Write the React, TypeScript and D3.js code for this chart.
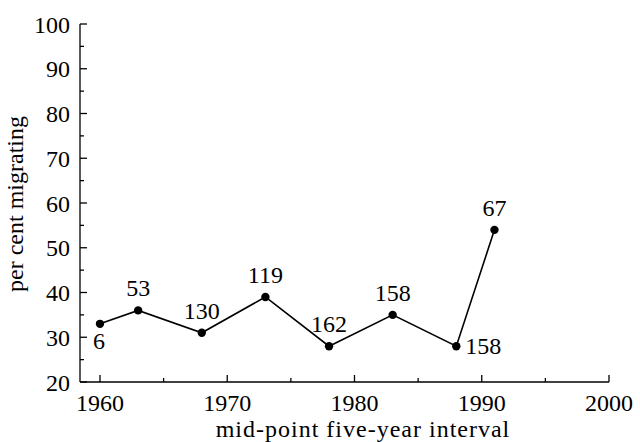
import React from "react";
import * as d3 from "d3";

// Mid-point of each five-year interval and the share of birds migrating
const years = [1960, 1963, 1968, 1973, 1978, 1983, 1988, 1991];
const percentMigrating = [33, 36, 31, 39, 28, 35, 28, 54];
// Sample size written beside each point
const sampleSizes = [6, 53, 130, 119, 162, 158, 158, 67];
const labelSide = ["below", "above", "above", "above", "above", "above", "right", "above"];

const xMajorTicks = [1960, 1970, 1980, 1990, 2000];
const xMinorTicks = [1965, 1975, 1985, 1995];
const yMajorTicks = [20, 30, 40, 50, 60, 70, 80, 90, 100];
const yMinorTicks = [25, 35, 45, 55, 65, 75, 85, 95];

const xTitle = "mid-point five-year interval";
const yTitle = "per cent migrating";

const W = 640;
const H = 442;
const left = 80;
const right = 609;
const top = 24;
const bottom = 382;
const FONT = "Liberation Serif";

export default function App() {
  const x = d3.scaleLinear().domain([1958.43, 2000]).range([left, right]);
  const y = d3.scaleLinear().domain([20, 100]).range([bottom, top]);

  const line = d3
    .line<number>()
    .x((_, i) => x(years[i]))
    .y((v) => y(v));

  const labelPos = (i: number) => {
    const px = x(years[i]);
    const py = y(percentMigrating[i]);
    switch (labelSide[i]) {
      case "below":
        return { x: px - 1, y: py + 25, anchor: "middle" };
      case "right":
        return { x: px + 9, y: py + 8, anchor: "start" };
      default:
        return { x: px, y: py - 14, anchor: "middle" };
    }
  };

  const ts = { fontFamily: FONT, fontSize: 24 };

  return (
    <svg
      width={W}
      height={H}
      viewBox={`0 0 ${W} ${H}`}
      style={{ position: "absolute", left: 0, top: 0, background: "#fff" }}
    >
      <rect width={W} height={H} fill="#fff" />

      {/* axes */}
      <g stroke="#000" strokeWidth={1.3} fill="none">
        <line x1={left} y1={top} x2={left} y2={bottom} />
        <line x1={left} y1={bottom} x2={right} y2={bottom} />
        {yMajorTicks.map((t) => (
          <line key={"ym" + t} x1={left} x2={left + 7} y1={y(t)} y2={y(t)} />
        ))}
        {yMinorTicks.map((t) => (
          <line key={"yn" + t} x1={left} x2={left + 4} y1={y(t)} y2={y(t)} />
        ))}
        {xMajorTicks.map((t) => (
          <line key={"xm" + t} x1={x(t)} x2={x(t)} y1={bottom} y2={bottom - 7} />
        ))}
        {xMinorTicks.map((t) => (
          <line key={"xn" + t} x1={x(t)} x2={x(t)} y1={bottom} y2={bottom - 4} />
        ))}
      </g>

      {/* tick labels */}
      {yMajorTicks.map((t) => (
        <text key={"yl" + t} x={left - 10} y={y(t) + 8.5} textAnchor="end" fill="#000" style={ts}>
          {t}
        </text>
      ))}
      {xMajorTicks.map((t) => (
        <text key={"xl" + t} x={x(t)} y={bottom + 28.5} textAnchor="middle" fill="#000" style={ts}>
          {t}
        </text>
      ))}

      {/* axis titles */}
      <text x={363} y={436.5} textAnchor="middle" fill="#000" style={{ ...ts, letterSpacing: 1 }}>
        {xTitle}
      </text>
      <text
        transform={`translate(23, 204) rotate(-90)`}
        textAnchor="middle"
        fill="#000"
        style={ts}
      >
        {yTitle}
      </text>

      {/* series */}
      <path d={line(percentMigrating) ?? ""} fill="none" stroke="#000" strokeWidth={1.6} />
      {percentMigrating.map((v, i) => (
        <circle key={"p" + i} cx={x(years[i])} cy={y(v)} r={4.2} fill="#000" />
      ))}
      {sampleSizes.map((n, i) => {
        const p = labelPos(i);
        return (
          <text key={"n" + i} x={p.x} y={p.y} textAnchor={p.anchor} fill="#000" style={ts}>
            {n}
          </text>
        );
      })}
    </svg>
  );
}
